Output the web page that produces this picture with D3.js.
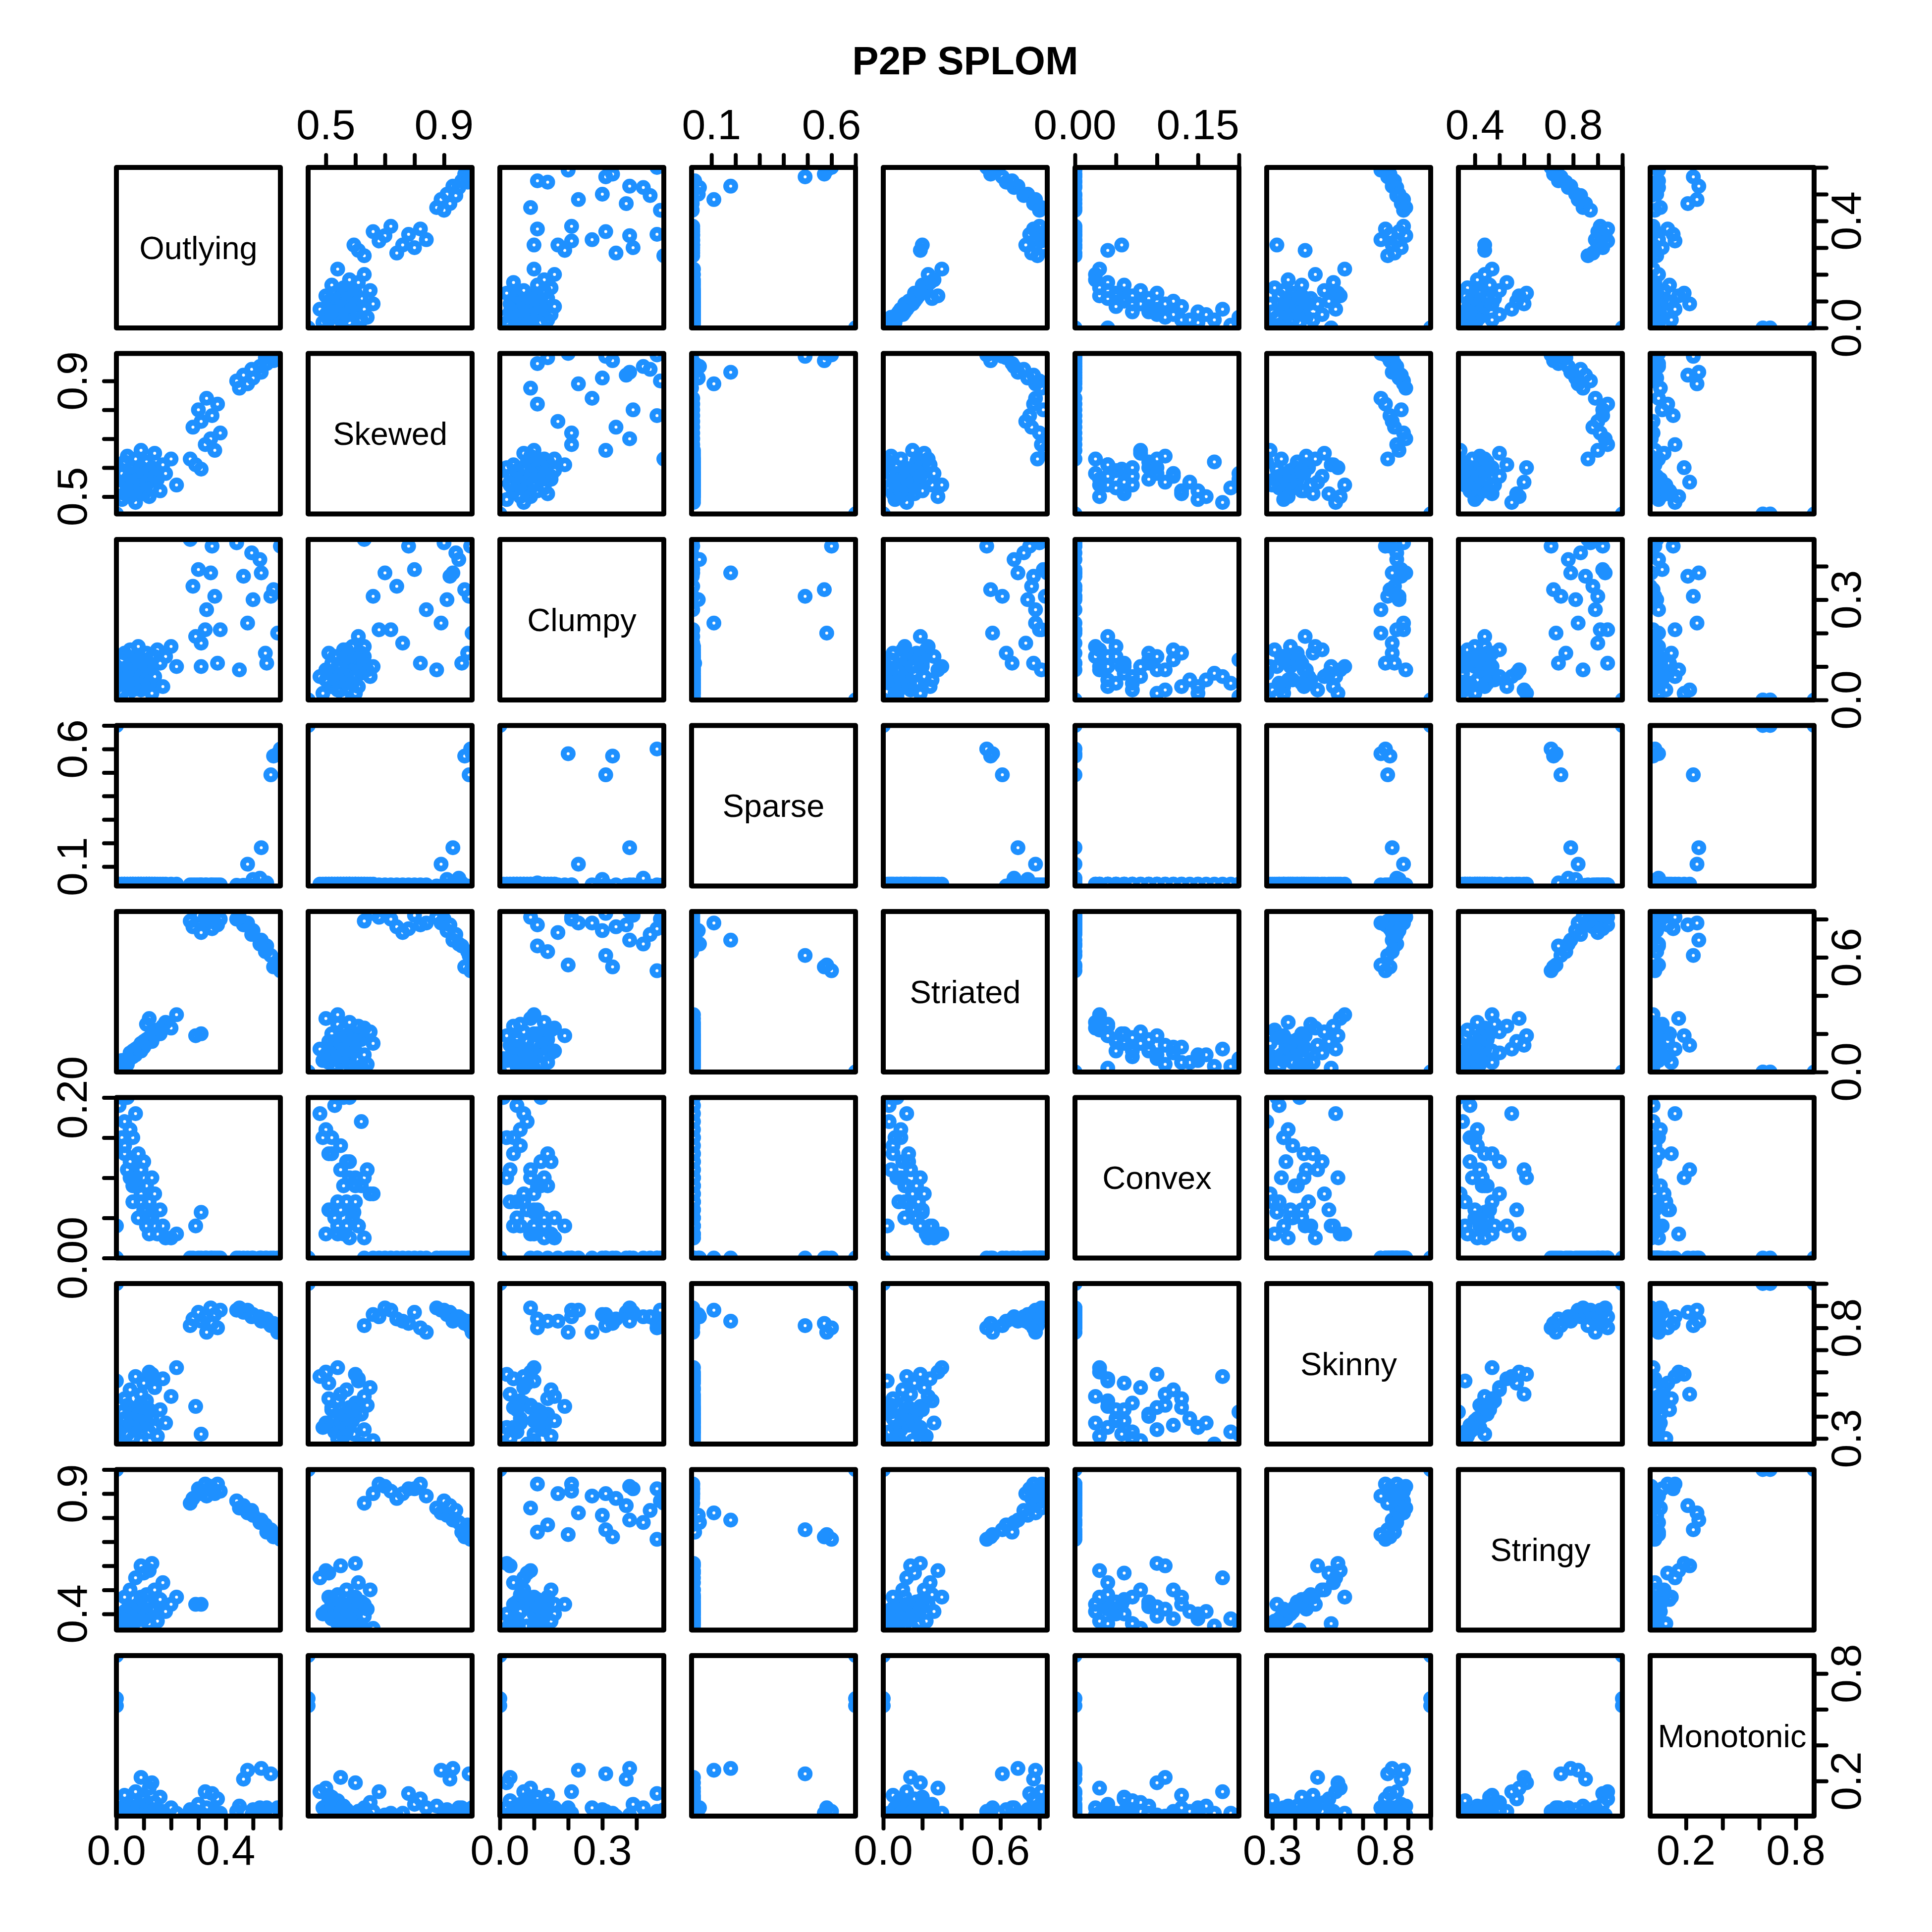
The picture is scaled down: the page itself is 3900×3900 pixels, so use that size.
<!DOCTYPE html>
<html><head><meta charset="utf-8">
<script src="https://cdn.jsdelivr.net/npm/d3@7"></script>
<style>body{margin:0;background:#fff}</style>
</head><body>
<svg id="chart" width="3900" height="3900"></svg>
<script>
// ---------- data ----------
const variables = ["Outlying","Skewed","Clumpy","Sparse","Striated","Convex","Skinny","Stringy","Monotonic"];

const outlying = [0,0,0,
 .600,.59,.575,.565,.55,.545,.53,.525,.50,.495,.48,.465,.45,.44,
 .38,.37,.36,.35,.345,.33,.325,.31,.30,.28,.29,.31,.27,
 .00,.01,.02,.02,.03,.03,.04,.04,.05,.05,.06,.06,.07,.07,.08,.08,.09,.09,.10,.10,.11,.11,.12,.12,.13,.13,.14,.15,.16,.17,.18,.20,.22,
 .03,.05,.06,.08,.09,.11,.12,.14];
const skewed = [.44,.44,.44,
 .99,.995,.97,.985,.96,.98,.93,.95,.91,.94,.89,.92,.875,.90,
 .72,.82,.66,.78,.70,.84,.68,.76,.80,.74,.61,.595,.63,
 .61,.53,.58,.49,.62,.51,.56,.64,.50,.57,.54,.60,.48,.63,.52,.59,.55,.66,.51,.58,.54,.62,.50,.57,.60,.53,.65,.56,.52,.61,.58,.63,.54,
 .55,.58,.52,.56,.60,.55,.59,.57];
const clumpy = [0,0,0,
 .46,.20,.33,.31,.11,.14,.38,.42,.30,.44,.23,.37,.09,.47,
 .21,.11,.31,.46,.38,.27,.21,.17,.39,.34,.19,.10,.48,
 .10,.05,.12,.02,.08,.14,.01,.09,.06,.15,.03,.11,.07,.13,.04,.16,.03,.10,.08,.12,.06,.14,.09,.05,.02,.13,.07,.15,.11,.04,.13,.16,.10,
 .06,.09,.04,.12,.07,.10,.05,.13];
const sparse = [.70,.70,.70,
 .60,.58,.57,.49,.03,.017,.18,.05,.045,.017,.11,.02,.017,.02,
 .022,.022,.022,.022,.022,.022,.022,.022,.022,.022,.022,.022,.022,
 .025,.025,.025,.025,.025,.025,.025,.025,.025,.025,.025,.025,.025,.025,.025,.025,.025,.025,.025,.025,.025,.025,.025,.025,.025,.025,.025,.025,.025,.025,.025,.025,.025,
 .025,.025,.025,.025,.025,.025,.025,.025];
const striated = [0,0,0,
 .53,.56,.55,.61,.66,.63,.69,.67,.74,.72,.78,.77,.81,.80,
 .80,.77,.83,.75,.84,.78,.81,.73,.82,.76,.19,.20,.79,
 .02,.03,.04,.06,.03,.05,.07,.04,.09,.10,.08,.11,.12,.09,.13,.11,.14,.15,.16,.13,.25,.17,.28,.18,.19,.16,.21,.22,.20,.24,.26,.23,.30,
 .05,.07,.09,.12,.11,.15,.17,.19];
const convex = [0,0,0,
 0,0,0,0,0,0,0,0,0,0,0,0,0,0,
 0,0,0,0,0,0,0,0,0,0,.04,.057,0,
 .04,.19,.20,.15,.17,.13,.20,.11,.16,.12,.07,.09,.18,.10,.13,.05,.11,.08,.06,.12,.04,.09,.03,.07,.10,.05,.08,.03,.06,.04,.025,.025,.03,
 .14,.10,.15,.09,.07,.06,.05,.04];
const skinny = [1,1,1,
 .80,.78,.82,.81,.84,.83,.83,.85,.86,.85,.88,.87,.89,.88,
 .88,.80,.86,.82,.89,.78,.85,.83,.87,.84,.445,.32,.81,
 .56,.33,.42,.35,.275,.48,.32,.45,.37,.52,.30,.40,.58,.34,.44,.38,.50,.29,.55,.36,.47,.41,.60,.33,.59,.39,.53,.31,.43,.57,.37,.49,.62,
 .39,.44,.35,.41,.46,.38,.43,.35];
const stringy = [1,1,1,
 .71,.73,.72,.75,.74,.77,.79,.78,.81,.83,.82,.85,.84,.87,
 .91,.94,.90,.92,.93,.89,.94,.90,.92,.88,.44,.44,.86,
 .36,.38,.333,.40,.35,.47,.37,.42,.41,.50,.36,.43,.55,.39,.44,.40,.60,.34,.57,.38,.48,.45,.58,.36,.61,.42,.50,.37,.46,.53,.41,.44,.47,
 .41,.43,.38,.44,.47,.40,.45,.42];
const monotonic = [.90,.66,.62,
 .03,.05,.02,.24,.05,.04,.27,.05,.04,.01,.26,.21,.06,.03,
 .02,.10,.03,.13,.01,.05,.14,.02,.07,.004,.03,.01,.04,
 .01,.02,.004,.05,.02,.12,.01,.004,.06,.03,.09,.02,.14,.01,.05,.004,.22,.03,.10,.01,.07,.02,.16,.04,.19,.004,.08,.02,.11,.03,.01,.05,.02,
 .03,.004,.02,.06,.01,.03,.02,.04];

// tick positions per variable
const ticksOutlying  = [0,0.1,0.2,0.3,0.4,0.5,0.6];
const ticksSkewed    = [0.5,0.6,0.7,0.8,0.9,1.0];
const ticksClumpy    = [0,0.1,0.2,0.3,0.4];
const ticksSparse    = [0.1,0.2,0.3,0.4,0.5,0.6,0.7];
const ticksStriated  = [0,0.2,0.4,0.6,0.8];
const ticksConvex    = [0,0.05,0.10,0.15,0.20];
const ticksSkinny    = [0.3,0.4,0.5,0.6,0.7,0.8,0.9,1.0];
const ticksStringy   = [0.4,0.5,0.6,0.7,0.8,0.9,1.0];
const ticksMonotonic = [0,0.2,0.4,0.6,0.8];
// labelled ticks: horizontal axes (top/bottom) and vertical axes (left/right)
const labelsHorizontal = [["0.0","0.4"],["0.5","0.9"],["0.0","0.3"],["0.1","0.6"],["0.0","0.6"],["0.00","0.15"],["0.3","0.8"],["0.4","0.8"],["0.2","0.8"]];
const labelsVertical   = [["0.0","0.4"],["0.5","0.9"],["0.0","0.3"],["0.1","0.6"],["0.0","0.6"],["0.00","0.20"],["0.3","0.8"],["0.4","0.9"],["0.2","0.8"]];

// ---------- drawing ----------
const columns = [outlying, skewed, clumpy, sparse, striated, convex, skinny, stringy, monotonic];
const ticks = [ticksOutlying, ticksSkewed, ticksClumpy, ticksSparse, ticksStriated, ticksConvex, ticksSkinny, ticksStringy, ticksMonotonic];
const N = variables.length;
const nPts = outlying.length;

const L = {left:235, top:338, px:387, py:375.5, w:331, h:324};
const colX = j => L.left + j*L.px;
const rowY = i => L.top + i*L.py;
const FONT = '"Liberation Sans", Arial, Helvetica, sans-serif';
const BLUE = "#1E90FF";

const svg = d3.select("#chart");
svg.append("rect").attr("width",3900).attr("height",3900).attr("fill","#fff");

const xs = columns.map((c,j) => d3.scaleLinear().domain(d3.extent(c)).range([colX(j), colX(j)+L.w]));
const ys = columns.map((c,i) => d3.scaleLinear().domain(d3.extent(c)).range([rowY(i)+L.h, rowY(i)]));
const inDom = (s,v) => { const d = s.domain(); return v >= d[0]-1e-9 && v <= d[1]+1e-9; };

// title
svg.append("text").attr("x", (colX(0)+colX(N-1)+L.w)/2).attr("y",150)
  .attr("text-anchor","middle").attr("font-family",FONT).attr("font-weight","bold")
  .attr("font-size",80).text("P2P SPLOM");

const defs = svg.append("defs");
for (let i=0;i<N;i++){
  for (let j=0;j<N;j++){
    const x0 = colX(j), y0 = rowY(i);
    const g = svg.append("g");
    if (i===j){
      g.append("text").attr("x",x0+L.w/2).attr("y",y0+L.h/2).attr("dy","0.35em")
        .attr("text-anchor","middle").attr("font-family",FONT).attr("font-size",65)
        .text(variables[i]);
    } else {
      const id = `clip-${i}-${j}`;
      defs.append("clipPath").attr("id",id).append("rect")
        .attr("x",x0).attr("y",y0).attr("width",L.w).attr("height",L.h);
      g.append("g").attr("clip-path",`url(#${id})`)
        .selectAll("circle").data(d3.range(nPts)).join("circle")
        .attr("cx", k => xs[j](columns[j][k]))
        .attr("cy", k => ys[i](columns[i][k]))
        .attr("r",9).attr("fill","none").attr("stroke",BLUE).attr("stroke-width",12);
    }
    g.append("rect").attr("x",x0).attr("y",y0).attr("width",L.w).attr("height",L.h)
      .attr("fill","none").attr("stroke","#000").attr("stroke-width",10).attr("stroke-linejoin","round");
  }
}

function styleAxis(sel){
  sel.select(".domain").remove();
  sel.selectAll(".tick line").attr("stroke","#000").attr("stroke-width",8).attr("stroke-linecap","round");
  sel.selectAll(".tick text").remove();
}
const TICK = 25;
// top / bottom axes
for (let j=0;j<N;j++){
  const s = xs[j];
  const tv = ticks[j].filter(v => inDom(s,v));
  const top = (j%2===1);
  const yAxis = top ? rowY(0) : rowY(N-1)+L.h;
  const ax = (top ? d3.axisTop(s) : d3.axisBottom(s)).tickValues(tv).tickSize(TICK).tickSizeOuter(0);
  svg.append("g").attr("transform",`translate(0,${yAxis})`).call(ax).call(styleAxis);
  labelsHorizontal[j].forEach(lab => {
    svg.append("text").attr("x", s(+lab)).attr("y", top ? yAxis-57 : yAxis+98)
      .attr("text-anchor","middle").attr("font-family",FONT).attr("font-size",86).text(lab);
  });
}
// left / right axes
for (let i=0;i<N;i++){
  const s = ys[i];
  const tv = ticks[i].filter(v => inDom(s,v));
  const left = (i%2===1);
  const xAxis = left ? colX(0) : colX(N-1)+L.w;
  const ax = (left ? d3.axisLeft(s) : d3.axisRight(s)).tickValues(tv).tickSize(TICK).tickSizeOuter(0);
  svg.append("g").attr("transform",`translate(${xAxis},0)`).call(ax).call(styleAxis);
  labelsVertical[i].forEach(lab => {
    const bx = left ? xAxis-60 : xAxis+94;
    svg.append("text").attr("transform",`translate(${bx},${s(+lab)}) rotate(-90)`)
      .attr("text-anchor","middle").attr("font-family",FONT).attr("font-size",86).text(lab);
  });
}
</script>
</body></html>
